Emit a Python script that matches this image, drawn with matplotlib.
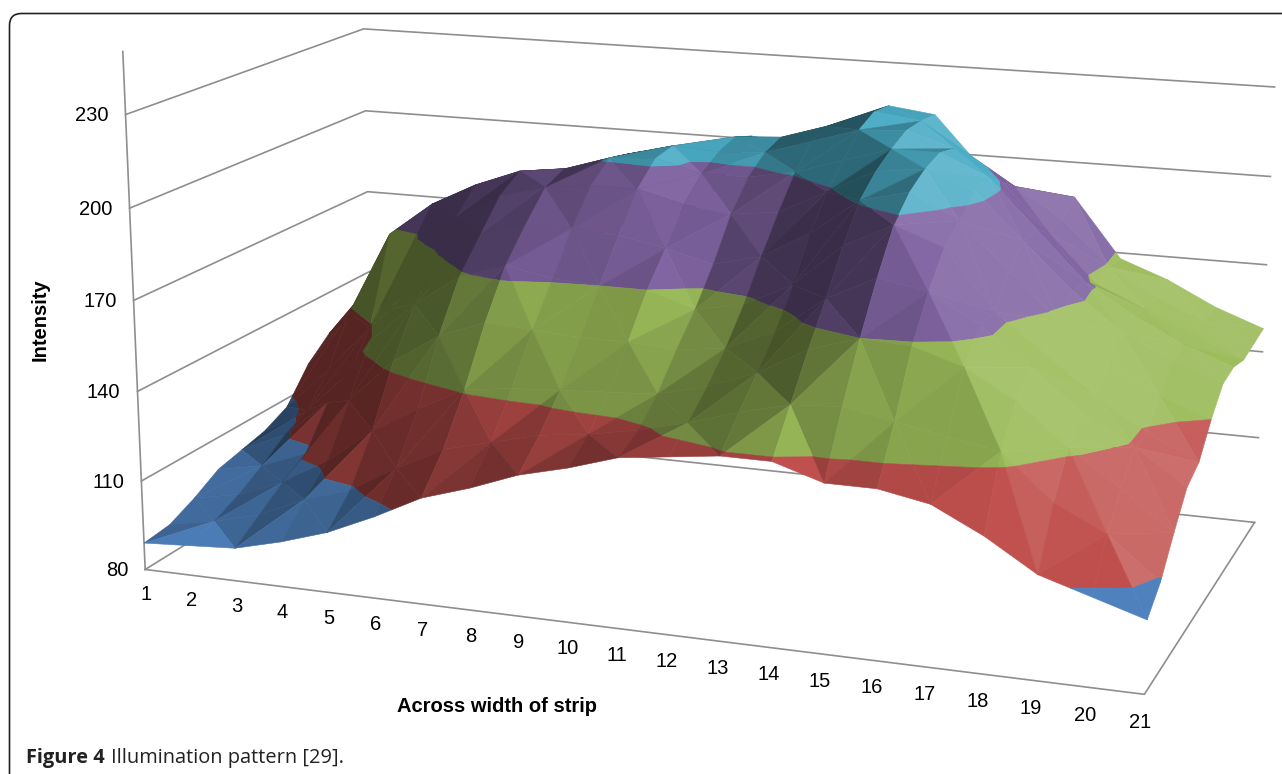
import numpy as np
import matplotlib
matplotlib.use('Agg')
import matplotlib.pyplot as plt
from matplotlib.colors import to_rgb
from matplotlib.patches import FancyBboxPatch
from matplotlib.transforms import IdentityTransform
from mpl_toolkits.mplot3d import proj3d
from mpl_toolkits.mplot3d.art3d import Poly3DCollection

plt.rcParams['font.family'] = ['Liberation Sans', 'DejaVu Sans']

# intensity readings, one list per row going back across the strip
row_00 = [89, 90, 91, 95, 100, 107, 115, 120, 126, 130, 135, 137, 139, 139, 134, 134, 131, 123, 113, 108, 103]
row_01 = [90, 93, 97, 104, 109, 118, 126, 130, 134, 136, 139, 143, 148, 152, 153, 150, 147, 144, 130, 122, 109]
row_02 = [94, 97, 103, 112, 124, 133, 141, 143, 144, 145, 146, 150, 156, 165, 170, 169, 164, 155, 142, 131, 119]
row_03 = [99, 102, 108, 128, 143, 153, 159, 158, 157, 157, 156, 158, 165, 177, 185, 182, 173, 161, 148, 139, 128]
row_04 = [101, 108, 121, 144, 158, 169, 174, 171, 170, 170, 165, 168, 176, 190, 198, 192, 173, 161, 149, 139, 131]
row_05 = [103, 112, 127, 151, 168, 179, 184, 184, 183, 180, 176, 180, 189, 201, 205, 197, 182, 167, 155, 146, 140]
row_06 = [107, 122, 139, 166, 180, 189, 193, 195, 195, 191, 189, 191, 199, 207, 209, 203, 188, 173, 161, 153, 147]
row_07 = [118, 138, 168, 180, 188, 194, 196, 201, 202, 198, 198, 201, 206, 211, 211, 204, 188, 172, 162, 154, 148]
row_08 = [125, 144, 163, 175, 183, 189, 193, 199, 203, 202, 203, 208, 213, 214, 209, 199, 183, 167, 160, 153, 146]
row_09 = [127, 140, 152, 161, 168, 174, 181, 188, 197, 204, 205, 210, 216, 214, 204, 194, 184, 169, 160, 153, 147]
row_10 = [125, 133, 140, 145, 150, 158, 165, 168, 176, 201, 199, 208, 215, 213, 196, 188, 188, 168, 162, 154, 148]
rows = [row_00, row_01, row_02, row_03, row_04, row_05, row_06, row_07, row_08, row_09, row_10]

x_labels = [str(i) for i in range(1, 22)]
z_ticks = [80, 110, 140, 170, 200, 230]
band_colors = ['#4F81BD', '#C0504D', '#9BBB59', '#8064A2', '#4BACC6']
band_lift = [0.17, 0.04, 0.0, 0.0, 0.03]  # the lower bands sit on steep faces but stay fairly bright
band_top = [1.0, 1.3, 1.3, 1.3, 1.3]

W, H = 1282, 774
scale, off_x, off_y = 6447.508, 713.14, 326.83  # camera fit against the box corners
side = scale * 0.185
fig = plt.figure(figsize=(W / 100, H / 100), dpi=100)
ax = fig.add_axes([(off_x - scale * 0.095) / W, (H - off_y - scale * 0.095) / H, side / W, side / H],
                  projection='3d')
ax.set_xlim(1, 21)
ax.set_ylim(0, 1)
ax.set_zlim(80, 230)
ax.view_init(14.6484, -70.4205, -0.1395)
ax.set_proj_type('persp', focal_length=0.5141)
ax.set_box_aspect((2.1956, 1.1498, 1.0))
ax.set_axis_off()

xs = np.arange(1, 22)
ys = np.linspace(0, 1, len(rows))
Z = np.array(rows, float)


def clip_band(poly, lo, hi):
    for sign, lim in ((1, lo), (-1, hi)):
        kept = []
        for a, b in zip(poly, poly[1:] + poly[:1]):
            da, db = sign * (a[2] - lim), sign * (b[2] - lim)
            if da >= 0:
                kept.append(a)
            if da * db < 0:
                t = da / (da - db)
                kept.append(tuple(np.array(a) + t * (np.array(b) - np.array(a))))
        poly = kept
        if not poly:
            return []
    return poly


light = np.array([0.8, -0.3, 0.5])
light = light / np.linalg.norm(light)
polys, colors = [], []
for j in range(len(ys) - 1):
    for i in range(len(xs) - 1):
        a = (xs[i], ys[j], Z[j, i])
        b = (xs[i + 1], ys[j], Z[j, i + 1])
        c = (xs[i + 1], ys[j + 1], Z[j + 1, i + 1])
        d = (xs[i], ys[j + 1], Z[j + 1, i])
        tris = [(a, b, c), (a, c, d)] if (i + j) % 2 == 0 else [(a, b, d), (b, c, d)]
        for tri in tris:
            t = np.array(tri, float) * np.array([0.11, 1.15, 0.0167])
            nrm = np.cross(t[1] - t[0], t[2] - t[0])
            nrm = nrm / np.linalg.norm(nrm)
            if nrm[2] < 0:
                nrm = -nrm
            f = 0.5 + 0.62 * nrm.dot(light)
            for k in range(len(band_colors)):
                part = clip_band(list(tri), z_ticks[k], z_ticks[k + 1])
                if len(part) >= 3:
                    fk = np.clip(f + band_lift[k], 0.45, band_top[k])
                    rgb = np.array(to_rgb(band_colors[k]))
                    rgb = rgb * fk if fk <= 1 else rgb + (1 - rgb) * (fk - 1) * 1.1
                    polys.append(part)
                    colors.append(rgb)
ax.add_collection3d(Poly3DCollection(polys, facecolors=colors, edgecolors=colors, linewidths=0.4))

# walls and floor, all behind the surface
grid = dict(color='#8e8e8e', lw=1.2, clip_on=False)
for z in z_ticks:
    ax.plot([1, 1, 21], [0, 1, 1], [z, z, z], **grid)
ax.plot([1, 1], [0, 0], [80, 250], **grid)
ax.plot([1, 21, 21], [0, 0, 1], [80, 80, 80], **grid)

M = ax.get_proj()


def anchor(x, y, z):
    u, v, _ = proj3d.proj_transform(x, y, z, M)
    return u, v


for z in z_ticks:
    ax.annotate(str(z), anchor(1, 0, z), xytext=(-17, -1), textcoords='offset pixels',
                ha='right', va='center', fontsize=14.5, annotation_clip=False)
for x, label in zip(xs, x_labels):
    ax.annotate(label, anchor(x, 0, 80), xytext=(1 - 5 * (x - 1) / 20, -25 - 3 * (x - 1) / 20),
                textcoords='offset pixels', ha='center', va='center', fontsize=14.5, annotation_clip=False)

fig.text(40 / W, 1 - 320 / H, 'Intensity', rotation=90, ha='center', va='center', fontsize=14.5, fontweight='bold')
fig.text(497 / W, 1 - 706 / H, 'Across width of strip', ha='center', va='center', fontsize=14.5, fontweight='bold')

# journal frame and caption
fig.add_artist(FancyBboxPatch((9.5, -60), 1500, H - 13.5 + 60, boxstyle='round,pad=0,rounding_size=12',
                              transform=IdentityTransform(), fc='none', ec='#222222', lw=1.2))
cap = fig.text(26 / W, 1 - 758 / H, 'Figure 4', family='Open Sans', fontweight='bold', fontsize=14.4,
               color='#222222', va='center')
fig.canvas.draw()
end = cap.get_window_extent().x1
fig.text((end + 6) / W, 1 - 758 / H, 'Illumination pattern [29].', family='Open Sans', fontsize=14.4,
         color='#222222', va='center')

fig.savefig('out.png', dpi=100)
